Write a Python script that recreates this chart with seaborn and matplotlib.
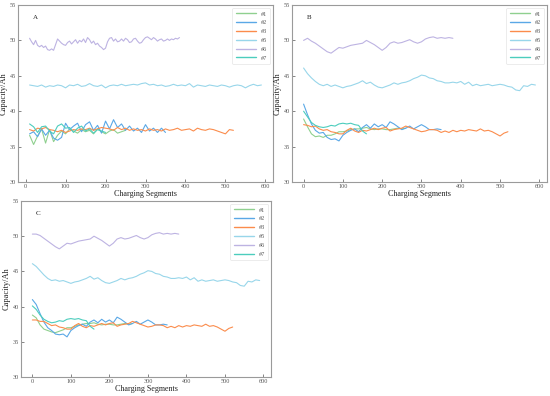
import numpy as np
import pandas as pd
import matplotlib
matplotlib.use("Agg")
import matplotlib.pyplot as plt
from matplotlib.lines import Line2D
import seaborn as sns

sns.set_theme(style="ticks")
plt.rcParams['font.family'] = ['Liberation Serif', 'DejaVu Serif']

labels = ["#1", "#2", "#3", "#5", "#6", "#7"]
colors = ["#8fd08f", "#5aa8e6", "#fb8c4c", "#98d6ea", "#bdb3e2", "#4ccdbd"]

# ---------------- Panel A (raw) ----------------
A1_x = np.arange(10, 251, 10)
A1_y = [36.6, 35.3, 36.5, 37.5, 35.5, 37.4, 35.7, 36.6, 37.2, 36.8, 37.5, 37.2, 36.9,
        37.4, 37.1, 37.3, 36.8, 37.5, 37.1, 36.8, 37.2, 37.4, 36.9, 37.1, 37.3]
A2_x = np.arange(10, 351, 10)
A2_y = [36.8, 37.1, 36.4, 37.5, 36.6, 37.3, 36.2, 35.9, 36.3, 38.3, 37.4, 37.9, 38.3,
        37.1, 38.1, 38.5, 37.3, 38.0, 36.9, 38.6, 37.5, 38.8, 37.7, 38.2, 37.3, 37.9,
        37.2, 37.6, 37.0, 38.1, 37.2, 37.6, 37.0, 37.6, 37.0]
A3_x = np.arange(10, 521, 10)
A3_y = [37.4, 37.2, 37.6, 37.5, 37.7, 37.4, 37.3, 37.1, 37.3, 37.0, 37.2, 37.4, 37.3,
        37.5, 37.4, 37.6, 37.3, 37.5, 37.7, 37.6, 37.5, 37.3, 37.7, 37.4, 37.6, 37.3,
        37.5, 37.3, 37.4, 37.2, 37.5, 37.3, 37.4, 37.2, 37.5, 37.3, 37.4, 37.6, 37.3,
        37.4, 37.5, 37.2, 37.6, 37.4, 37.3, 37.5, 37.4, 37.2, 37.0, 36.8, 37.4, 37.3]
A5_x = np.arange(10, 591, 10)
A5_y = [43.7, 43.6, 43.5, 43.7, 43.4, 43.6, 43.5, 43.7, 43.6, 43.3, 43.7, 43.6, 43.8,
        43.5, 43.6, 43.9, 43.6, 43.5, 43.7, 43.3, 43.6, 43.7, 43.6, 43.8, 43.6, 43.7,
        43.8, 43.7, 43.9, 44.0, 43.7, 43.8, 43.6, 43.7, 43.5, 43.6, 43.8, 43.6, 43.7,
        43.6, 43.9, 43.4, 43.7, 43.6, 43.5, 43.7, 43.6, 43.5, 43.7, 43.6, 43.4, 43.6,
        43.7, 43.6, 43.3, 43.6, 43.8, 43.6, 43.7]
A6_x = np.arange(10, 386, 5)
A6_y = [50.3, 49.8, 49.4, 50.0, 49.3, 49.1, 49.3, 49.0, 49.2, 48.7, 48.6, 48.8, 48.6,
        49.4, 50.2, 49.9, 49.6, 49.4, 49.3, 49.7, 49.9, 49.5, 49.8, 50.1, 49.6, 50.0,
        49.8, 50.2, 49.7, 50.4, 50.1, 49.6, 49.9, 49.4, 49.6, 49.2, 49.0, 48.7, 48.9,
        49.8, 50.3, 50.4, 49.9, 50.2, 49.8, 49.9, 50.2, 49.9, 50.3, 50.1, 49.7, 49.8,
        50.2, 50.3, 49.9, 49.6, 49.7, 50.1, 50.4, 50.5, 50.3, 50.1, 50.4, 50.2, 49.9,
        50.1, 50.2, 49.9, 50.0, 50.2, 50.0, 50.2, 50.1, 50.3, 50.2, 50.4]
A7_x = np.arange(10, 201, 10)
A7_y = [38.2, 37.8, 37.0, 37.8, 37.9, 37.2, 36.8, 37.9, 38.2, 37.6, 37.7, 37.0, 37.6,
        37.9, 37.2, 37.5, 36.9, 37.4, 37.2, 37.0]

# ---------------- Panel B (smoothed) ----------------
B1_x = np.arange(0, 261, 10)
B1_y = [38.9, 37.8, 36.8, 36.4, 36.5, 36.3, 36.6, 36.6, 36.8, 37.1, 37.1, 37.2, 37.4,
        37.5, 37.5, 37.6, 37.7, 37.5, 37.4, 37.5, 37.5, 37.4, 37.4, 37.5, 37.6, 37.5, 37.6]
B2_x = np.arange(0, 351, 10)
B2_y = [41.0, 39.5, 38.2, 37.3, 36.9, 37.0, 36.3, 36.0, 36.1, 35.8, 36.6, 37.0, 37.3,
        37.5, 37.1, 37.7, 38.1, 37.6, 38.2, 37.8, 38.1, 37.7, 38.5, 38.2, 37.8, 37.4,
        37.6, 37.9, 37.5, 37.8, 38.1, 37.8, 37.4, 37.4, 37.5, 37.4]
B3_x = np.arange(0, 521, 10)
B3_y = [38.1, 38.0, 37.8, 37.9, 37.5, 37.3, 37.4, 37.1, 37.0, 36.8, 36.8, 37.3, 37.6,
        37.2, 37.0, 37.3, 37.2, 37.4, 37.6, 37.4, 37.6, 37.7, 37.2, 37.4, 37.5, 37.6,
        37.9, 37.7, 37.5, 37.3, 37.1, 37.2, 37.4, 37.4, 37.3, 37.0, 37.2, 37.0, 37.3,
        37.1, 37.3, 37.2, 37.4, 37.3, 37.2, 37.5, 37.2, 37.3, 37.1, 36.8, 36.5, 36.9, 37.1]
B5_x = np.arange(0, 591, 10)
B5_y = [46.1, 45.3, 44.7, 44.2, 43.8, 43.6, 43.8, 43.5, 43.7, 43.5, 43.3, 43.5, 43.6,
        43.8, 44.0, 44.3, 43.9, 44.1, 43.7, 43.4, 43.3, 43.5, 43.7, 44.0, 43.8, 44.0,
        44.1, 44.3, 44.6, 44.8, 45.1, 45.0, 44.7, 44.6, 44.3, 44.2, 44.0, 44.0, 44.1,
        44.0, 44.2, 43.8, 44.1, 43.6, 43.8, 43.6, 43.7, 43.8, 43.6, 43.7, 43.8, 43.7,
        43.5, 43.4, 43.0, 42.9, 43.6, 43.5, 43.8, 43.7]
B6_x = np.arange(0, 381, 10)
B6_y = [50.0, 50.3, 49.9, 49.6, 49.2, 48.8, 48.4, 48.2, 48.6, 49.0, 48.9, 49.1, 49.3,
        49.4, 49.5, 49.6, 50.0, 49.7, 49.4, 49.0, 48.6, 49.0, 49.6, 49.8, 49.6, 49.7,
        49.9, 50.1, 49.8, 49.6, 49.8, 50.2, 50.4, 50.5, 50.3, 50.4, 50.3, 50.4, 50.3]
B7_x = np.arange(0, 161, 10)
B7_y = [40.0, 39.2, 38.4, 38.0, 37.8, 37.7, 37.8, 38.0, 37.9, 38.2, 38.3, 38.2, 38.3,
        38.1, 38.0, 37.2, 36.8]

# ---------------- Panel C (smoothed) ----------------
C1_x = np.arange(0, 261, 10)
C1_y = [38.8, 38.4, 37.4, 36.8, 36.6, 36.4, 36.3, 36.5, 36.7, 37.0, 37.0, 37.2, 37.4,
        37.5, 37.6, 37.6, 37.7, 37.5, 37.4, 37.5, 37.5, 37.4, 37.4, 37.5, 37.6, 37.5, 37.6]
C2_x = np.arange(0, 351, 10)
C2_y = [41.0, 40.3, 39.0, 37.8, 37.0, 36.6, 36.1, 36.0, 36.1, 35.7, 36.6, 37.0, 37.3,
        37.5, 37.2, 37.8, 38.1, 37.7, 38.2, 37.8, 38.1, 37.7, 38.5, 38.2, 37.8, 37.4,
        37.6, 37.9, 37.5, 37.8, 38.1, 37.8, 37.4, 37.4, 37.5, 37.4]
C3_x = np.arange(0, 521, 10)
C3_y = [38.1, 38.1, 37.9, 37.9, 37.6, 37.3, 37.4, 37.1, 37.0, 36.8, 36.8, 37.3, 37.6,
        37.2, 37.0, 37.3, 37.2, 37.4, 37.6, 37.4, 37.6, 37.7, 37.2, 37.4, 37.5, 37.6,
        37.9, 37.7, 37.5, 37.3, 37.1, 37.2, 37.4, 37.4, 37.3, 37.0, 37.2, 37.0, 37.3,
        37.1, 37.3, 37.2, 37.4, 37.3, 37.2, 37.5, 37.2, 37.3, 37.1, 36.8, 36.5, 36.9, 37.1]
C5_x = np.arange(0, 591, 10)
C5_y = [46.1, 45.7, 45.1, 44.5, 44.0, 43.7, 43.8, 43.6, 43.7, 43.5, 43.3, 43.5, 43.6,
        43.8, 44.0, 44.3, 43.9, 44.1, 43.7, 43.4, 43.3, 43.5, 43.7, 44.0, 43.8, 44.0,
        44.1, 44.3, 44.6, 44.8, 45.1, 45.0, 44.7, 44.6, 44.3, 44.2, 44.0, 44.0, 44.1,
        44.0, 44.2, 43.8, 44.1, 43.6, 43.8, 43.6, 43.7, 43.8, 43.6, 43.7, 43.8, 43.7,
        43.5, 43.4, 43.0, 42.9, 43.6, 43.5, 43.8, 43.7]
C6_x = np.arange(0, 381, 10)
C6_y = [50.3, 50.3, 50.1, 49.7, 49.3, 48.9, 48.5, 48.2, 48.6, 49.0, 48.9, 49.1, 49.3,
        49.4, 49.5, 49.6, 50.0, 49.7, 49.4, 49.0, 48.6, 49.0, 49.6, 49.8, 49.6, 49.7,
        49.9, 50.1, 49.8, 49.6, 49.8, 50.2, 50.4, 50.5, 50.3, 50.4, 50.3, 50.4, 50.3]
C7_x = np.arange(0, 161, 10)
C7_y = [40.1, 39.6, 38.8, 38.2, 37.9, 37.7, 37.8, 38.0, 37.9, 38.2, 38.3, 38.2, 38.3,
        38.1, 38.0, 37.2, 36.8]

panels = [
    ("A", [(A1_x, A1_y), (A2_x, A2_y), (A3_x, A3_y), (A5_x, A5_y), (A6_x, A6_y), (A7_x, A7_y)]),
    ("B", [(B1_x, B1_y), (B2_x, B2_y), (B3_x, B3_y), (B5_x, B5_y), (B6_x, B6_y), (B7_x, B7_y)]),
    ("C", [(C1_x, C1_y), (C2_x, C2_y), (C3_x, C3_y), (C5_x, C5_y), (C6_x, C6_y), (C7_x, C7_y)]),
]

W, H = 550, 396
fig = plt.figure(figsize=(5.5, 3.96), dpi=100)
rects = {
    "A": [18 / W, 1 - 182 / H, (273 - 18) / W, (182 - 5) / H],
    "B": [292 / W, 1 - 182 / H, (547 - 292) / W, (182 - 5) / H],
    "C": [21 / W, 1 - 377 / H, (271 - 21) / W, (377 - 201) / H],
}
spine_col = "#9a9a9a"
for name, series in panels:
    ax = fig.add_axes(rects[name])
    for (xs, ys), lab, col in zip(series, labels, colors):
        df = pd.DataFrame({"x": xs, "y": ys})
        sns.lineplot(data=df, x="x", y="y", color=col, lw=0.8, ax=ax, legend=False)
    ax.set_ylim(30, 55)
    ax.set_yticks([30, 35, 40, 45, 50, 55])
    ax.set_xticks([0, 100, 200, 300, 400, 500, 600])
    ax.tick_params(direction="in", length=2, width=0.5, labelsize=4.5, pad=1.5,
                   colors="#555555")
    for s in ax.spines.values():
        s.set_color(spine_col)
        s.set_linewidth(0.8)
    ax.set_xlabel("Charging Segments", fontsize=5.8, labelpad=0.5, color="#222222")
    ax.set_ylabel("Capacity/Ah", fontsize=6, labelpad=1.5, color="#222222")
    ax.text(0.06, 0.93, name, transform=ax.transAxes, fontsize=5, va="center")
    handles = [Line2D([], [], color=c, lw=1.0) for c in colors]
    leg = ax.legend(handles, labels, loc="upper right", fontsize=4.5, handlelength=3.2,
                    frameon=True, borderpad=0.5, labelspacing=0.55, handletextpad=0.8)
    leg.get_frame().set_edgecolor("#dddddd")
    leg.get_frame().set_linewidth(0.5)
    for t in leg.get_texts():
        t.set_color("#555555")

fig.savefig("out.png", dpi=100)
